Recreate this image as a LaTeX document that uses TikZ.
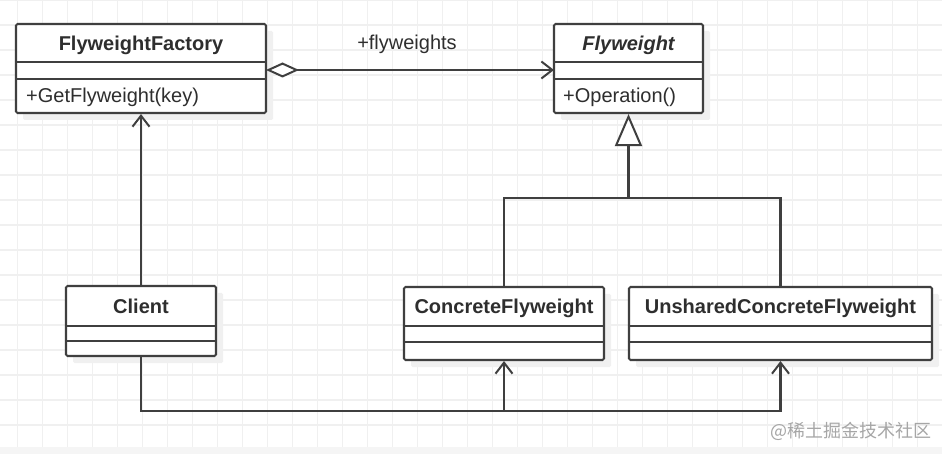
\documentclass[tikz,border=0pt]{standalone}
\usepackage{fontspec}
\setmainfont{Liberation Sans}
\newfontfamily\cjkfont{Noto Sans CJK SC}
\usetikzlibrary{arrows.meta,shadows}
\definecolor{linec}{HTML}{3F3F3F}
\definecolor{textc}{HTML}{2E2E2E}
\definecolor{gridc}{HTML}{F0F0F0}
\definecolor{wmc}{HTML}{A6A6A6}
\tikzset{
  classbox/.style={draw=linec, line width=2.1pt, fill=white, rounded corners=1.5pt,
    inner sep=0pt, drop shadow={shadow xshift=7pt, shadow yshift=-7pt, fill=black!6, opacity=1}},
  cname/.style={anchor=base, inner sep=0pt, text=textc, font=\fontsize{20}{24}\selectfont\bfseries},
  member/.style={anchor=base west, inner sep=0pt, text=textc, font=\fontsize{20}{24}\selectfont},
  sepline/.style={draw=linec, line width=2.1pt},
  conn/.style={draw=linec, line width=2.1pt},
  barb/.style={-{Straight Barb[length=11pt,width=17pt,line width=2pt]}},
}
\begin{document}
\begin{tikzpicture}[x=1pt,y=-1pt]
\useasboundingbox (0,0) rectangle (942,454);
\fill[white] (0,0) rectangle (942,454);
\foreach \x in {17.7,42.7,...,942}{\draw[gridc,line width=1.2pt] (\x,0) -- (\x,454);}
\foreach \y in {0,25,...,450}{\draw[gridc,line width=1.2pt] (0,\y) -- (942,\y);}
\fill[black!4] (0,447) rectangle (942,454);

% class boxes
\node[classbox, minimum width=250pt, minimum height=89pt] (ff) at (141,68.5) {};
\node[classbox, minimum width=149pt, minimum height=89pt] (fw) at (628.5,68.5) {};
\node[classbox, minimum width=150pt, minimum height=70pt] (cl) at (141,321) {};
\node[classbox, minimum width=200pt, minimum height=73pt] (cf) at (504,323.5) {};
\node[classbox, minimum width=303pt, minimum height=73pt] (ucf) at (780.5,323.5) {};

% compartments
\draw[sepline] (ff.west |- 0,62) -- (ff.east |- 0,62) (ff.west |- 0,79) -- (ff.east |- 0,79);
\draw[sepline] (fw.west |- 0,62) -- (fw.east |- 0,62) (fw.west |- 0,79) -- (fw.east |- 0,79);
\draw[sepline] (cl.west |- 0,326) -- (cl.east |- 0,326) (cl.west |- 0,341) -- (cl.east |- 0,341);
\draw[sepline] (cf.west |- 0,326) -- (cf.east |- 0,326) (cf.west |- 0,342) -- (cf.east |- 0,342);
\draw[sepline] (ucf.west |- 0,326) -- (ucf.east |- 0,326) (ucf.west |- 0,342) -- (ucf.east |- 0,342);

% texts
\node[cname] (ffn) at (141,51) {FlyweightFactory};
\node[member] (ffm) at (26,103) {+GetFlyweight(key)};
\node[cname, font=\fontsize{20}{24}\selectfont\bfseries\itshape] (fwn) at (628.5,51) {Flyweight};
\node[member] (fwm) at (563,103) {+Operation()};
\node[cname] (cln) at (141,313) {Client};
\node[cname] (cfn) at (504,313) {ConcreteFlyweight};
\node[cname] (ucfn) at (780.5,313) {UnsharedConcreteFlyweight};

% aggregation
\coordinate (ag1) at (266,70);
\coordinate (ag2) at (554,70);
\draw[conn, line width=2.5pt, {Diamond[open,length=33pt,width=15pt,line width=2pt,fill=white]}-{Straight Barb[length=11pt,width=17pt,line width=2pt]}] (ag1) -- (ag2);
\node[anchor=base, inner sep=0pt, text=textc, font=\fontsize{20}{24}\selectfont] (agl) at (407,50) {+flyweights};

% generalization
\coordinate (gj) at (628.5,198);
\coordinate (gl) at (504,198);
\coordinate (gr) at (780.5,198);
\draw[conn] (cf.north) -- (gl) -- (gr) -- (ucf.north);
\draw[conn, -{Triangle[open,length=32pt,width=27pt,line width=2pt,fill=white]}] (gj) -- (fw.south);

% client dependencies
\draw[conn, barb] (cl.north) -- (ff.south);
\coordinate (bl) at (141,411);
\coordinate (bm) at (504,411);
\coordinate (br) at (780.5,411);
\draw[conn, barb] (cl.south) -- (bl) -- (bm) -- (cf.south);
\draw[conn, barb] (bm) -- (br) -- (ucf.south);

% watermark
\node[anchor=east, inner sep=0pt, text=wmc, font=\cjkfont\fontsize{18}{20}\selectfont] (wm) at (932,431) {@稀土掘金技术社区};
\end{tikzpicture}
\end{document}
